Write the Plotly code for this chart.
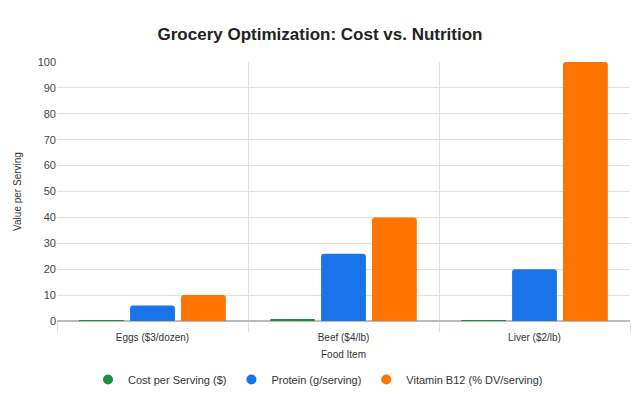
import plotly.graph_objects as go

categories = ["Eggs ($3/dozen)", "Beef ($4/lb)", "Liver ($2/lb)"]
cost = [0.25, 0.75, 0.25]
protein = [6, 26, 20]
b12 = [10, 40, 100]
series_names = ["Cost per Serving ($)", "Protein (g/serving)", "Vitamin B12 (% DV/serving)"]
colors = ["#1e8e3e", "#1a73e8", "#ff7400"]

fig = go.Figure()
for name, vals, col in zip(series_names, [cost, protein, b12], colors):
    fig.add_trace(go.Bar(x=categories, y=vals, name=name, marker_color=col,
                         marker_line_width=0, showlegend=False, legendgroup=name))
for name, col in zip(series_names, colors):
    fig.add_trace(go.Scatter(x=[None], y=[None], mode="markers", name=name,
                             marker=dict(symbol="circle", size=10, color=col),
                             legendgroup=name))

# page has an 8px body margin: figure drawn 632x390 offset by 8px
fig.update_layout(
    width=632, height=390,
    paper_bgcolor="white", plot_bgcolor="white",
    margin=dict(l=49, r=10, t=54, b=77, autoexpand=False),
    barmode="group", bargap=0.2, bargroupgap=0.12, barcornerradius=3,
    font=dict(family="Liberation Sans, Arial, sans-serif", size=11, color="#444"),
    title=dict(text="<b>Grocery Optimization: Cost vs. Nutrition</b>", x=(320 - 8) / 632, xanchor="center",
               yref="container", y=1 - 26 / 390, yanchor="middle", font=dict(size=17, color="#222")),
    legend=dict(orientation="h", x=(310 - 49) / 573, xanchor="center",
                y=-0.17, yanchor="top",
                font=dict(size=11, color="#333"), itemwidth=30, tracegroupgap=0),
    xaxis=dict(tickson="boundaries", showgrid=True, gridcolor="#e0e0e0", ticks="outside",
               ticklen=10, tickcolor="#e0e0e0", showline=True, linecolor="#bbb",
               tickfont=dict(size=10, color="#333"), automargin=False, ticklabelstandoff=7,
               title=dict(text="Food Item", font=dict(size=10, color="#333"), standoff=8)),
    yaxis=dict(range=[0, 100], dtick=10, showgrid=True, gridcolor="#e0e0e0", automargin=False,
               zeroline=True, zerolinecolor="#bbb", tickfont=dict(size=11, color="#444"),
               ticks="", title=dict(text="Value per Serving", font=dict(size=10, color="#333"), standoff=14)),
)
fig.write_html("out.html")
